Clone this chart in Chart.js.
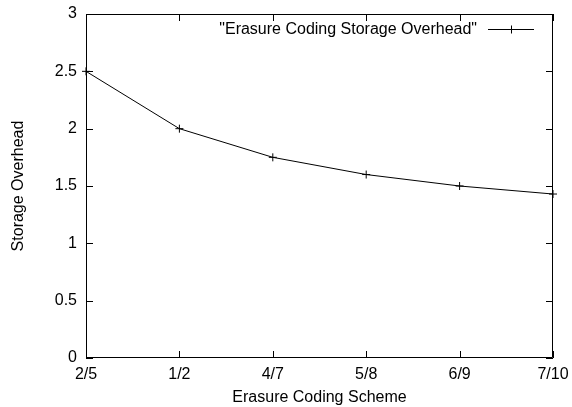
<!DOCTYPE html>
<html>
<head>
<meta charset="utf-8">
<script src="https://cdn.jsdelivr.net/npm/chart.js@4"></script>
<style>
  html, body { margin: 0; padding: 0; background: #fff; }
  #wrap { width: 572px; height: 407px; }
</style>
</head>
<body>
<div id="wrap"><canvas id="c" width="572" height="407"></canvas></div>
<script>
// data
const schemes = ["2/5", "1/2", "4/7", "5/8", "6/9", "7/10"];
const overhead = [2.5, 2.0, 1.75, 1.6, 1.5, 1.43];
const yTicks = [0, 0.5, 1, 1.5, 2, 2.5, 3];
const seriesLabel = '"Erasure Coding Storage Overhead"';

const FONT = "'Liberation Sans', Arial, Helvetica, sans-serif";
const FSIZE = 16;
const TICK = 7;

// gnuplot-style frame with inward ticks on all four sides + legend inside
const gnuplotFrame = {
  id: 'gnuplotFrame',
  afterDraw(chart) {
    const { ctx, chartArea: a, scales } = chart;
    ctx.save();
    ctx.strokeStyle = '#000';
    ctx.lineWidth = 1;
    ctx.beginPath();
    ctx.rect(a.left + 0.5, a.top + 0.5, a.right - a.left - 1, a.bottom - a.top - 1);
    ctx.stroke();

    ctx.beginPath();
    scales.x.ticks.forEach((t, i) => {
      const x = Math.round(scales.x.getPixelForTick(i)) + 0.5;
      ctx.moveTo(x, a.bottom); ctx.lineTo(x, a.bottom - TICK);
      ctx.moveTo(x, a.top); ctx.lineTo(x, a.top + TICK);
    });
    scales.y.ticks.forEach(t => {
      const y = Math.round(scales.y.getPixelForValue(t.value)) + 0.5;
      ctx.moveTo(a.left, y); ctx.lineTo(a.left + TICK, y);
      ctx.moveTo(a.right, y); ctx.lineTo(a.right - TICK, y);
    });
    ctx.stroke();

    // legend
    const ly = a.top + 15.5;
    const x1 = a.right - 65, x2 = a.right - 19;
    ctx.font = FSIZE + 'px ' + FONT;
    ctx.fillStyle = '#000';
    ctx.textAlign = 'right';
    ctx.textBaseline = 'middle';
    ctx.fillText(chart.data.datasets[0].label, x1 - 11, ly);
    ctx.beginPath();
    ctx.moveTo(x1, ly); ctx.lineTo(x2, ly);
    const mx = Math.round((x1 + x2) / 2) + 0.5;
    ctx.moveTo(mx, ly - 4); ctx.lineTo(mx, ly + 4);
    ctx.stroke();
    ctx.restore();
  }
};

new Chart(document.getElementById('c'), {
  type: 'line',
  data: {
    labels: schemes,
    datasets: [{
      label: seriesLabel,
      data: overhead,
      borderColor: '#000',
      backgroundColor: '#000',
      borderWidth: 1,
      tension: 0,
      pointStyle: 'cross',
      pointRadius: 4,
      pointBorderWidth: 1,
      pointBorderColor: '#000',
      clip: false
    }]
  },
  options: {
    responsive: false,
    animation: false,
    devicePixelRatio: 1,
    layout: { padding: { top: 14, right: 19, left: 0, bottom: 0 } },
    plugins: { legend: { display: false }, tooltip: { enabled: false } },
    scales: {
      x: {
        type: 'category',
        offset: false,
        grid: { display: false, drawTicks: false },
        border: { display: false },
        ticks: { color: '#000', font: { family: FONT, size: FSIZE }, padding: 7, maxRotation: 0, autoSkip: false },
        title: { display: true, text: 'Erasure Coding Scheme', color: '#000', font: { family: FONT, size: FSIZE }, padding: { top: 0, bottom: 0 } },
        // fixed axis band, no extra label overhang padding
        afterFit(s) { s.height = 49; s.paddingLeft = 0; s.paddingRight = 0; }
      },
      y: {
        min: 0, max: 3,
        afterBuildTicks(s) { s.ticks = yTicks.map(v => ({ value: v })); },
        grid: { display: false, drawTicks: false },
        border: { display: false },
        ticks: { color: '#000', font: { family: FONT, size: FSIZE }, padding: 9, callback: v => String(v) },
        title: { display: true, text: 'Storage Overhead', color: '#000', font: { family: FONT, size: FSIZE }, padding: { top: 9, bottom: 0 } },
        afterFit(s) { s.width = 86; s.paddingTop = 0; s.paddingBottom = 0; }
      }
    }
  },
  plugins: [gnuplotFrame]
});
</script>
</body>
</html>
